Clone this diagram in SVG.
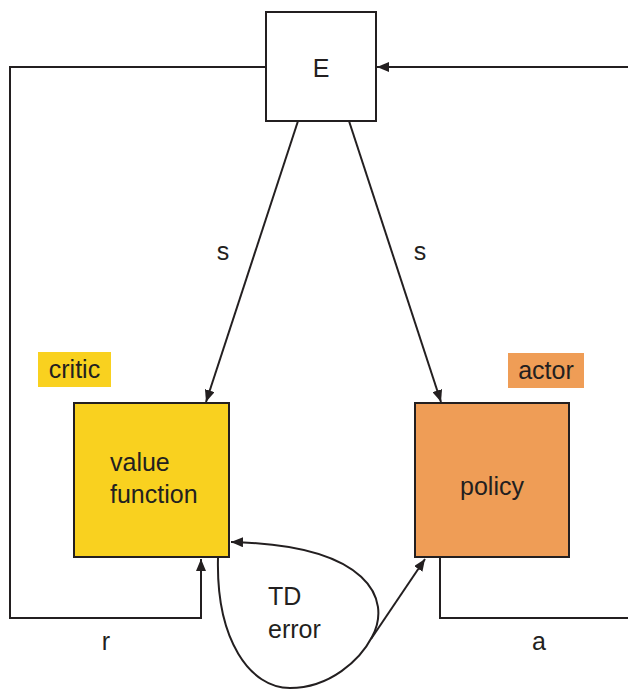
<svg xmlns="http://www.w3.org/2000/svg" width="628" height="690" viewBox="0 0 628 690">
  <defs>
    <marker id="arrow" viewBox="0 0 12 10" refX="12" refY="5" markerWidth="12" markerHeight="10" markerUnits="userSpaceOnUse" orient="auto">
      <path d="M0,0 L12,5 L0,10 z" fill="#231f20"/>
    </marker>
    <style>
      .box { stroke: #231f20; stroke-width: 2; }
      .line { fill: none; stroke: #231f20; stroke-width: 2; }
      .lbl { font-family: "Liberation Sans", Arial, sans-serif; font-size: 25px; fill: #231f20; }
    </style>
  </defs>
  <rect width="628" height="690" fill="#ffffff"/>

  <!-- connectors -->
  <g id="connectors">
    <!-- reward loop: E -> r -> value function -->
    <polyline class="line" points="266,67 10,67 10,618 201,618 201,559" marker-end="url(#arrow)"/>
    <!-- action loop: policy -> a -> E -->
    <polyline class="line" points="440,557 440,618 628,618"/>
    <polyline class="line" points="628,67 377,67" marker-end="url(#arrow)"/>
    <!-- state to critic and actor -->
    <line class="line" x1="298" y1="121" x2="206" y2="402" marker-end="url(#arrow)"/>
    <line class="line" x1="349" y1="121" x2="441" y2="402" marker-end="url(#arrow)"/>
    <!-- TD error loop -->
    <path class="line" d="M218,558 C216,640 250,688 290,688 C330,688 360,660 372,637 C392,600 370,545 231,542" marker-end="url(#arrow)"/>
    <line class="line" x1="371" y1="639" x2="425" y2="559" marker-end="url(#arrow)"/>
  </g>

  <!-- environment -->
  <g id="node-env">
    <rect class="box" x="266" y="12" width="110" height="109" fill="#ffffff"/>
    <text class="lbl" x="321" y="77" text-anchor="middle" font-size="26">E</text>
  </g>

  <!-- critic -->
  <g id="node-critic">
    <rect x="38" y="352" width="73" height="35" fill="#f9d11f"/>
    <text class="lbl" x="74.5" y="378" text-anchor="middle">critic</text>
    <rect class="box" x="74" y="403" width="155" height="154" fill="#f9d11f"/>
    <text class="lbl" x="110" y="471">value</text>
    <text class="lbl" x="110" y="503">function</text>
  </g>

  <!-- actor -->
  <g id="node-actor">
    <rect x="508" y="353" width="76" height="35" fill="#ef9d56"/>
    <text class="lbl" x="546" y="379" text-anchor="middle">actor</text>
    <rect class="box" x="415" y="403" width="154" height="154" fill="#ef9d56"/>
    <text class="lbl" x="492" y="495" text-anchor="middle">policy</text>
  </g>

  <!-- edge labels -->
  <g id="labels">
    <text class="lbl" x="223" y="260" text-anchor="middle">s</text>
    <text class="lbl" x="420" y="260" text-anchor="middle">s</text>
    <text class="lbl" x="268" y="605">TD</text>
    <text class="lbl" x="268" y="638">error</text>
    <text class="lbl" x="106" y="650" text-anchor="middle">r</text>
    <text class="lbl" x="539" y="650" text-anchor="middle">a</text>
  </g>
</svg>
